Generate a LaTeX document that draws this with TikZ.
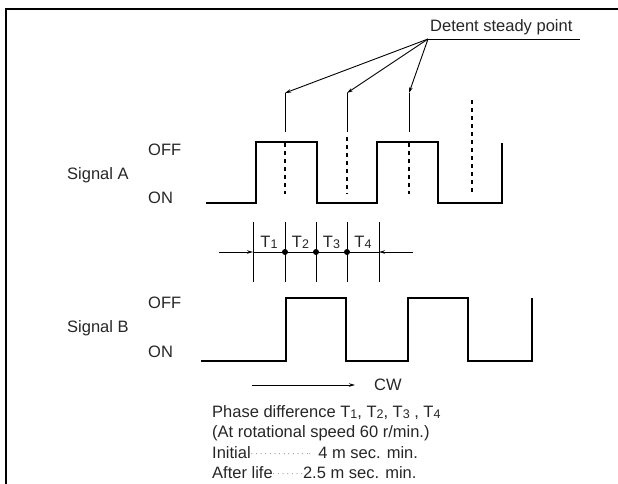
\documentclass[tikz,border=0pt]{standalone}
\usepackage{fontspec}
\setmainfont{Liberation Sans}
\usetikzlibrary{arrows.meta}
\newcommand{\Ts}[1]{T\raisebox{-0.1ex}{\fontsize{12.5}{12.5}\selectfont #1}}
\begin{document}
\begin{tikzpicture}[x=1pt,y=-1pt,
  txt/.style={inner sep=0pt,font=\fontsize{16.5}{18}\selectfont,text=black!85},
  wave/.style={line width=1.4pt,line join=miter},
  thin/.style={line width=0.9pt},
  dsh/.style={line width=1.1pt,dash pattern=on 4pt off 4pt},
  tip/.style={-{Stealth[length=6pt,width=3.5pt]}},
  frame/.style={line width=2.5pt}]
\useasboundingbox (0,0) rectangle (618,484);
% frame
\draw[frame] (6,484) -- (6,9) -- (618,9);
% label
\node[txt,anchor=west] (lab) at (430,27) {Detent steady point};
\coordinate (ul) at (428,39);
\draw[thin] (ul) -- (580,39);
% detent lines
\coordinate (d1) at (285,93);
\coordinate (d2) at (347,93);
\coordinate (d3) at (409,93);
\draw[thin] (d1) -- (285,132);
\draw[thin] (d2) -- (347,132);
\draw[thin] (d3) -- (409,132);
\draw[dsh] (285,143) -- (285,194);
\draw[dsh] (347,137) -- (347,194);
\draw[dsh] (409,143) -- (409,194);
\draw[dsh] (472,100) -- (472,193);
\draw[thin,tip] (ul) -- (d1);
\draw[thin,tip] (ul) -- (d2);
\draw[thin,tip] (ul) -- (d3);
% signal A
\node[txt,anchor=west] (offA) at (148,150) {OFF};
\node[txt,anchor=west] (sigA) at (67,175) {Signal A};
\node[txt,anchor=west] (onA) at (148,198) {ON};
\draw[wave] (206,203) -- (256,203) -- (256,142) -- (317,142) -- (317,203) -- (377,203) -- (377,142) -- (438,142) -- (438,203) -- (502,203) -- (502,143);
% T section
\foreach \x/\n in {253/a,285/b,316/c,347/d,379/e} {
  \draw[thin] (\x,222) -- (\x,282);
  \coordinate (t\n) at (\x,252);
}
\draw[thin] (ta) -- (te);
\coordinate (la) at (219,252);
\coordinate (ra) at (413,252);
\draw[thin,tip] (la) -- (ta);
\draw[thin,tip] (ra) -- (te);
\foreach \n in {b,c,d} \fill (t\n) circle (3pt);
\node[txt] (T1) at (269,242) {\Ts{1}};
\node[txt] (T2) at (300.5,242) {\Ts{2}};
\node[txt] (T3) at (331.5,242) {\Ts{3}};
\node[txt] (T4) at (363,242) {\Ts{4}};
% signal B
\node[txt,anchor=west] (offB) at (148,303) {OFF};
\node[txt,anchor=west] (sigB) at (67,328) {Signal B};
\node[txt,anchor=west] (onB) at (148,352) {ON};
\draw[wave] (201,361) -- (286,361) -- (286,298) -- (346,298) -- (346,361) -- (408,361) -- (408,298) -- (468,298) -- (468,361) -- (532,361) -- (532,298);
% CW
\coordinate (cw0) at (252,385);
\node[txt,anchor=west] (cw) at (374,385) {CW};
\draw[thin,tip] (cw0) -- (355,385);
% notes
\node[txt,anchor=west] (n1) at (212,413) {Phase difference \Ts{1}, \Ts{2}, \Ts{3} , \Ts{4}};
\node[txt,anchor=west] (n2) at (212,433) {(At rotational speed 60 r/min.)};
\node[txt,anchor=west] (n3) at (212,453) {Initial\raisebox{0.3ex}{\fontsize{9}{9}\selectfont$\cdot\cdot\cdot\cdot\cdot\cdot\cdot\cdot\cdot\cdot\cdot\cdot\cdot\cdot$}\hspace{7pt}4 m sec. min.};
\node[txt,anchor=west] (n4) at (212,473) {After life\raisebox{0.3ex}{\fontsize{9}{9}\selectfont$\cdot\cdot\cdot\cdot\cdot\cdot\cdot$}2.5 m sec. min.};
\end{tikzpicture}
\end{document}
